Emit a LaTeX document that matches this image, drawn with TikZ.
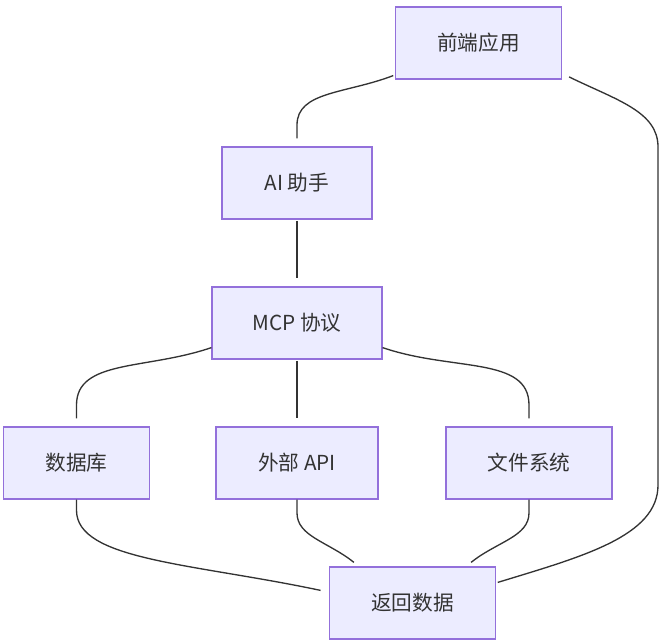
\documentclass[tikz,border=0pt]{standalone}
\usepackage{fontspec}
\usepackage{tikz}
\usepackage{xcolor}
\setmainfont{Noto Sans CJK SC}
\usetikzlibrary{calc}
\definecolor{boxfill}{HTML}{ECECFF}
\definecolor{boxline}{HTML}{9370DB}
\definecolor{inkgray}{HTML}{333333}
\tikzset{
  flow box/.style = {draw=boxline, fill=boxfill, line width=0.9pt,
    minimum height=54pt, inner sep=0pt}
}
\tikzset{
  every node/.style = {font = \fontsize{15.5pt}{18pt}\selectfont, text=inkgray}
}
\tikzset{
  link/.style = {draw=inkgray, line width=1pt}
}

\begin{document}
\begin{tikzpicture}[x=0.75pt, y=0.75pt]
  \useasboundingbox (0,0) rectangle (663,642);

  \node[flow box, minimum width=125pt] (fe) at (478.5,599) {前端应用};
  \node[flow box, minimum width=112.5pt] (ai) at (297,459) {AI 助手};
  \node[flow box, minimum width=127.5pt] (mcp) at (297,319) {MCP 协议};
  \node[flow box, minimum width=109pt] (db) at (76.5,179) {数据库};
  \node[flow box, minimum width=121.5pt] (api) at (297,179) {外部 API};
  \node[flow box, minimum width=124.5pt] (fs) at (529,179) {文件系统};
  \node[flow box, minimum width=125pt] (ret) at (412.5,39) {返回数据};

  % right hand side bend of the long edge
  \coordinate (rtop) at (658,495);
  \coordinate (rbot) at (658,157);

  \draw[link] ([xshift=-1,yshift=3]fe.south west)
    to[out=201,in=90,out looseness=1.2,in looseness=0.8]
    ([yshift=16]ai.north) -- ([yshift=6]ai.north);
  \draw[link] ([xshift=5,yshift=2]fe.south east)
    to[out=-26,in=90,out looseness=1.2,in looseness=0.8] (rtop)
    -- (rbot) to[out=-90,in=17,out looseness=0.7,in looseness=1.2]
    ([xshift=1,yshift=-12]ret.north east);

  \draw[link] ([yshift=-1]ai.south) -- ([yshift=6]mcp.north);

  \draw[link] ([yshift=9]mcp.south west)
    to[out=199,in=90,out looseness=1.2,in looseness=0.8]
    ([yshift=16]db.north) -- ([yshift=6]db.north);
  \draw[link] ([yshift=-1]mcp.south) -- ([yshift=6]api.north);
  \draw[link] ([yshift=9]mcp.south east)
    to[out=-19,in=90,out looseness=1.2,in looseness=0.8]
    ([yshift=16]fs.north) -- ([yshift=6]fs.north);

  \draw[link] (db.south) -- ([yshift=-8]db.south)
    to[out=-90,in=168,out looseness=0.5,in looseness=1.3]
    ([xshift=-6,yshift=-18]ret.north west);
  \draw[link] (api.south) -- ([yshift=-10]api.south)
    to[out=-90,in=141,out looseness=0.8,in looseness=1.1]
    ([xshift=19,yshift=3]ret.north west);
  \draw[link] (fs.south) -- ([yshift=-10]fs.south)
    to[out=-90,in=39,out looseness=0.8,in looseness=1.1]
    ([xshift=-19,yshift=3]ret.north east);
\end{tikzpicture}
\end{document}
